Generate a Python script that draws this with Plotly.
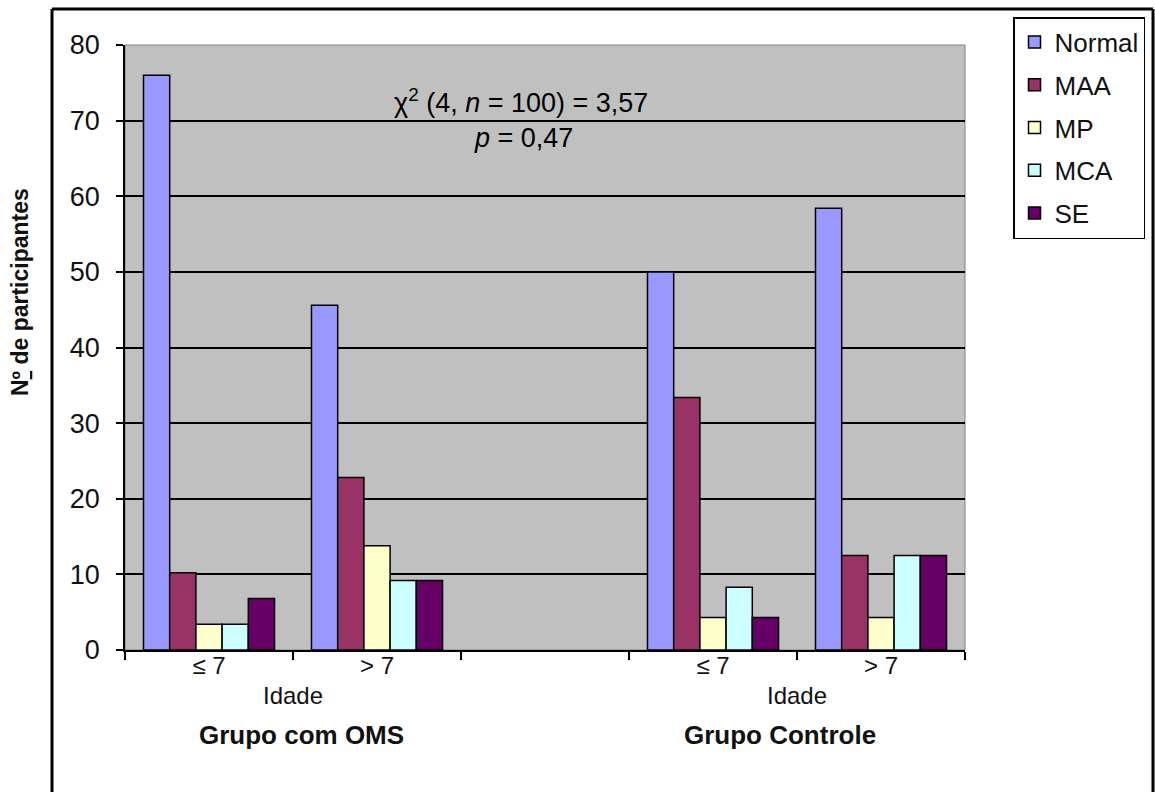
import plotly.graph_objects as go

# ---------------- data ----------------
series = ["Normal", "MAA", "MP", "MCA", "SE"]
groups = ["Grupo com OMS", "Grupo Controle"]
ages = ["≤ 7", "> 7"]
# values per series: [OMS ≤7, OMS >7, Controle ≤7, Controle >7]
normal = [76.0, 45.6, 50.0, 58.4]
maa = [10.2, 22.8, 33.4, 12.5]
mp = [3.4, 13.8, 4.3, 4.3]
mca = [3.4, 9.2, 8.3, 12.5]
se = [6.8, 9.2, 4.3, 12.5]
values = [normal, maa, mp, mca, se]
colors = ["#9999FF", "#993366", "#FFFFCC", "#CCFFFF", "#660066"]
y_ticks = [0, 10, 20, 30, 40, 50, 60, 70, 80]
chi_text = "χ<sup>2</sup> (4, <i>n</i> = 100) = 3,57"
p_text = "<i>p</i> = 0,47"
y_title = "<b>N<span style='text-decoration:underline'>º</span> de participantes</b>"
x_sub = "Idade"

# category slots: group g, age a -> slot 3*g + a (slot 2 left empty)
slots = [3 * g + a for g in range(len(groups)) for a in range(len(ages))]
slot_labels = [ages[a] for g in range(len(groups)) for a in range(len(ages))]

W, H = 1155, 792
L, R, T, B = 125, 190, 45, 142
pw, ph = W - L - R, H - T - B


def px(xp):
    return (xp - L) / pw


def py(yp):
    return (H - B - yp) / ph


FONT = "Liberation Sans, Arial, sans-serif"
TXT = "#111111"

fig = go.Figure()
for name, vals, col in zip(series, values, colors):
    fig.add_trace(go.Bar(
        x=slots, y=vals, name=name, legendgroup=name,
        marker=dict(color=col, line=dict(color="#000000", width=1.5)),
    ))

fig.update_layout(
    width=W, height=H,
    margin=dict(l=L, r=R, t=T, b=B, autoexpand=False),
    paper_bgcolor="white", plot_bgcolor="#C0C0C0",
    barmode="group", bargap=0.22, bargroupgap=0,
    font=dict(family=FONT, size=24, color=TXT),
    showlegend=True,
    legend=dict(
        x=px(1013), y=py(17), xanchor="left", yanchor="top",
        bordercolor="#000000", borderwidth=1.5, bgcolor="white",
        font=dict(family=FONT, size=26, color=TXT),
        tracegroupgap=6, traceorder="grouped",
    ),
    xaxis=dict(
        range=[-0.5, 4.5], tickmode="array", tickvals=slots, ticktext=slot_labels,
        ticks="", showgrid=False, zeroline=False,
        showline=True, linecolor="#000000", linewidth=1.5,
        tickfont=dict(family=FONT, size=24, color=TXT),
        ticklabelstandoff=-7,
        minor=dict(tick0=-0.5, dtick=1, ticks="outside", ticklen=8,
                   tickcolor="#000000", tickwidth=1.5, showgrid=False),
    ),
    yaxis=dict(
        range=[0, 80], tickmode="array", tickvals=y_ticks,
        ticks="outside", ticklen=7, tickcolor="#000000", tickwidth=1.5,
        showgrid=True, gridcolor="#000000", gridwidth=2, zeroline=False,
        showline=True, linecolor="#000000", linewidth=1.5,
        tickfont=dict(family=FONT, size=27, color=TXT),
        ticklabelstandoff=11,
    ),
)

# plot-area thin border (top/right) and outer frame
fig.add_shape(type="rect", xref="paper", yref="paper", x0=0, x1=1, y0=0, y1=1,
              line=dict(color="#808080", width=1), layer="between")
frame = dict(color="#000000", width=3)
fig.add_shape(type="line", xref="paper", yref="paper", x0=px(52), x1=px(52), y0=py(9), y1=py(800), line=frame)
fig.add_shape(type="line", xref="paper", yref="paper", x0=px(52), x1=px(1153), y0=py(9), y1=py(9), line=frame)
fig.add_shape(type="line", xref="paper", yref="paper", x0=px(1153), x1=px(1153), y0=py(9), y1=py(800), line=frame)

# statistics
fig.add_annotation(text=chi_text, xref="paper", yref="paper", x=px(521), y=py(101),
                   xanchor="center", yanchor="middle",
                   showarrow=False, font=dict(family=FONT, size=27, color="#000000"))
fig.add_annotation(text=p_text, xref="paper", yref="paper", x=px(523), y=py(138),
                   xanchor="center", yanchor="middle",
                   showarrow=False, font=dict(family=FONT, size=27, color="#000000"))

# axis texts
fig.add_annotation(text=y_title, xref="paper", yref="paper", x=px(20), y=py(292),
                   xanchor="center", yanchor="middle",
                   textangle=-90, showarrow=False, font=dict(family=FONT, size=23, color=TXT))
for g, gname in enumerate(groups):
    mid = 3 * g + 0.5
    fig.add_annotation(text=x_sub, xref="x", yref="paper", x=mid, y=py(695),
                       xanchor="center", yanchor="middle",
                       showarrow=False, font=dict(family=FONT, size=24, color=TXT))
    fig.add_annotation(text="<b>" + gname + "</b>", xref="x", yref="paper",
                       x=mid + (0.05 if g == 0 else -0.1), y=py(735),
                       xanchor="center", yanchor="middle",
                       showarrow=False, font=dict(family=FONT, size=26, color=TXT))

fig.write_html("out.html", config={"displayModeBar": False},
               post_script="document.body.style.margin='0px';")
